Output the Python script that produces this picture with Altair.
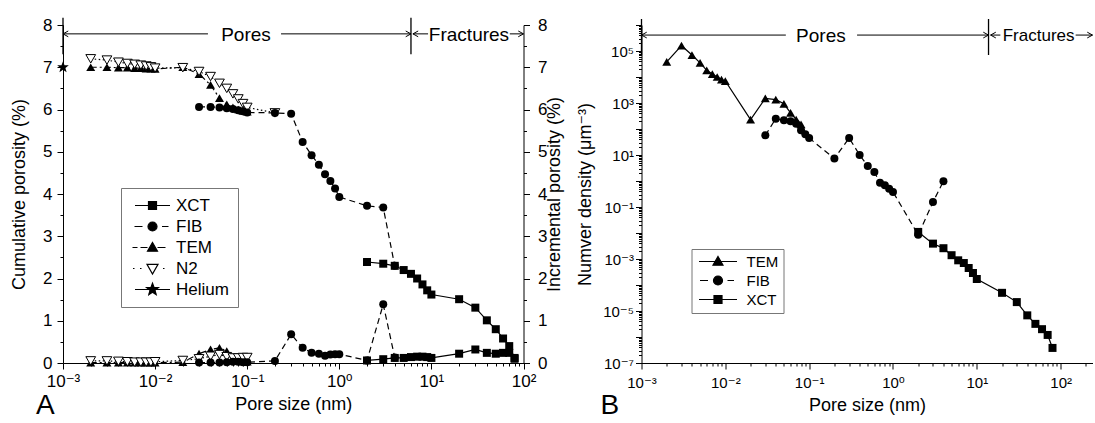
import math
import altair as alt
import pandas as pd

FONT = "Liberation Sans, Arial, DejaVu Sans, sans-serif"

# ---------------- Panel A data (pore size in nm, porosity in %) ----------------
n2_size = [0.002, 0.003, 0.004, 0.005, 0.006, 0.007, 0.008, 0.009, 0.01,
           0.02, 0.03, 0.04, 0.05, 0.06, 0.07, 0.08, 0.09, 0.1, 0.2]
n2_cum = [7.20, 7.17, 7.12, 7.09, 7.07, 7.05, 7.03, 7.01, 6.98,
          6.99, 6.90, 6.78, 6.62, 6.50, 6.37, 6.25, 6.14, 6.05, 5.92]
n2_inc_size = [0.002, 0.003, 0.004, 0.005, 0.006, 0.007, 0.008, 0.009, 0.01,
               0.02, 0.03, 0.04, 0.05, 0.06, 0.07, 0.08, 0.09, 0.1]
n2_inc = [0.05, 0.05, 0.04, 0.03, 0.02, 0.02, 0.02, 0.02, 0.03,
          0.06, 0.10, 0.16, 0.20, 0.15, 0.12, 0.12, 0.13, 0.13]

tem_size = [0.002, 0.003, 0.004, 0.005, 0.006, 0.007, 0.008, 0.009, 0.01,
            0.02, 0.03, 0.04, 0.05, 0.06, 0.07, 0.08, 0.09, 0.1]
tem_cum = [7.00, 7.00, 6.99, 6.99, 6.98, 6.98, 6.97, 6.97, 6.96,
           7.00, 6.84, 6.58, 6.27, 6.12, 6.05, 6.00, 5.97, 5.95]
tem_inc = [0.01, 0.01, 0.01, 0.01, 0.01, 0.01, 0.01, 0.01, 0.01,
           0.02, 0.22, 0.32, 0.36, 0.28, 0.12, 0.06, 0.04, 0.03]

fib_size = [0.03, 0.04, 0.05, 0.06, 0.07, 0.08, 0.09, 0.1, 0.2, 0.3,
            0.4, 0.5, 0.6, 0.7, 0.8, 0.9, 1.0, 2, 3, 4]
fib_cum = [6.06, 6.06, 6.05, 6.03, 6.01, 5.98, 5.96, 5.93, 5.92, 5.90,
           5.23, 4.92, 4.69, 4.47, 4.31, 4.13, 3.93, 3.72, 3.68, 2.30]
fib_inc = [0.01, 0.01, 0.01, 0.02, 0.03, 0.03, 0.02, 0.02, 0.05, 0.68,
           0.36, 0.24, 0.22, 0.17, 0.20, 0.21, 0.21, 0.06, 1.39, 0.13]

xct_size = [2, 3, 4, 5, 6, 7, 8, 9, 10, 20, 30, 40, 50, 60, 70, 80]
xct_cum = [2.39, 2.35, 2.30, 2.20, 2.11, 2.00, 1.86, 1.72, 1.62, 1.51,
           1.31, 1.01, 0.80, 0.58, 0.40, 0.12]
xct_inc = [0.06, 0.09, 0.12, 0.12, 0.14, 0.15, 0.15, 0.14, 0.12, 0.22,
           0.32, 0.24, 0.22, 0.24, 0.24, 0.10]

helium_size = [0.001]
helium_cum = [7.0]

legend_A = ["XCT", "FIB", "TEM", "N2", "Helium"]

# ---------------- Panel B data (number density, um^-3) ----------------
tem_b_size = [0.002, 0.003, 0.004, 0.005, 0.006, 0.007, 0.008, 0.009, 0.01,
              0.02, 0.03, 0.04, 0.05, 0.06, 0.07, 0.08]
tem_b_dens = [3.8e4, 1.6e5, 7.0e4, 3.5e4, 1.8e4, 1.3e4, 1.0e4, 8.0e3, 7.0e3,
              2.3e2, 1.5e3, 1.35e3, 9.3e2, 4.2e2, 2.3e2, 1.5e2]

fib_b_size = [0.03, 0.04, 0.05, 0.06, 0.07, 0.08, 0.09, 0.1, 0.2, 0.3,
              0.4, 0.5, 0.6, 0.7, 0.8, 0.9, 1.0, 2, 3, 4]
fib_b_dens = [57, 250, 215, 200, 160, 89, 63, 45, 7.3, 45,
              10, 3.8, 2.2, 0.85, 0.68, 0.5, 0.38, 0.0085, 0.155, 0.98]

xct_b_size = [2, 3, 4, 5, 6, 7, 8, 9, 10, 20, 30, 40, 50, 60, 70, 80]
xct_b_dens = [1.1e-2, 3.9e-3, 2.6e-3, 1.4e-3, 8.9e-4, 7.0e-4, 4.5e-4, 2.9e-4,
              1.7e-4, 5.0e-5, 2.2e-5, 6.8e-6, 3.2e-6, 2.0e-6, 1.2e-6, 3.8e-7]

legend_B = ["TEM", "FIB", "XCT"]

# ---------------- annotation values ----------------
A_band_y = 7.79
A_bar_y = [8.17, 7.31]
A_bars_x = [0.001, 6.0]
A_seg_start = [0.001, 0.233, 6.3, 71]
A_seg_end = [0.0375, 6.0, 9.2, 100]
A_tip_right = [6.0, 100]
A_tip_left = [0.001, 6.3]
A_words = ["Pores", "Fractures"]
A_words_x = [0.097, 25.6]

B_band_y = 4.1e5
B_bar_y = [1.7e6, 7.0e4]
B_bars_x = [0.001, 13.8]
B_seg_start = [0.001, 0.373, 14.6, 151]
B_seg_end = [0.0527, 13.8, 19.1, 240]
B_tip_right = [13.8, 240]
B_tip_left = [0.001, 14.6]
B_words = ["Pores", "Fractures"]
B_words_x = [0.138, 54.6]

# ---------------- helpers ----------------
E = "round(log(datum.value)/LN10)"
IS_POW = f"abs(log(datum.value)/LN10 - {E}) < 0.001"
SUP = (f"'10' + ({E} < 0 ? '\u207b' : '') + "
       f"['\u2070','\u00b9','\u00b2','\u00b3','\u2074','\u2075','\u2076','\u2077','\u2078','\u2079'][abs({E})]")
LOG_LABEL = f"{IS_POW} ? {SUP} : ''"
ODD_LABEL = f"({IS_POW}) && abs({E}) % 2 == 1 ? {SUP} : ''"
INT_LABEL = "datum.value % 1 == 0 ? format(datum.value, 'd') : ''"


def log_ticks(lo, hi, limit):
    out = []
    for e in range(lo, hi + 1):
        for k in range(1, 10):
            v = float(f"{k}e{e}")
            if v <= limit * 1.0001:
                out.append(v)
    return out


def star_path(s):
    pts = []
    for k in range(10):
        ang = math.radians(-90 + 36 * k)
        rr = s if k % 2 == 0 else s * 0.42
        pts.append(f"{rr * math.cos(ang):.3f},{rr * math.sin(ang):.3f}")
    return "M" + "L".join(pts) + "Z"


def sq(s):
    return f"M{-s},{-s}H{s}V{s}H{-s}Z"


def circ(s):
    return f"M{-s},0A{s},{s},0,1,0,{s},0A{s},{s},0,1,0,{-s},0Z"


def tri_up(s):
    return f"M0,{-s}L{s},{0.75 * s}H{-s}Z"


def tri_down_outline(s):
    return f"M0,{s}L{s},{-0.75 * s}H{-s}Z M0,{s}L{-s},{-0.75 * s}H{s}Z"


RIGHT_TIP = "M-1,-0.55L0,0L-1,0.55"
LEFT_TIP = "M1,-0.55L0,0L1,0.55"
STAR = star_path(1.0)

lin_cond = {"condition": {"test": "datum.value % 1 == 0", "value": 6}, "value": 3}
log_cond = {"condition": {"test": IS_POW, "value": 6}, "value": 3}

# ---------------- Panel A ----------------
WA, HA = 460.5, 338
xA_scale = alt.Scale(type="log", domain=[0.001, 100], nice=False)
yA_scale = alt.Scale(domain=[0, 8], nice=False, zero=False)
xA_axis = alt.Axis(values=log_ticks(-3, 2, 100), labelExpr=LOG_LABEL, tickSize=log_cond,
                   title="Pore size (nm)", labelOverlap=False, labelFlush=False, grid=False,
                   labelFontSize=17, labelPadding=4, titlePadding=6)
yA_axis = alt.Axis(values=[i * 0.5 for i in range(17)], labelExpr=INT_LABEL,
                   tickSize=lin_cond, title="Cumulative porosity (%)", labelOverlap=False, grid=False,
                   labelFlush=False, labelFontSize=17, labelPadding=5, titlePadding=14)
yA2_axis = alt.Axis(values=[i * 0.5 for i in range(17)], labelExpr=INT_LABEL,
                    tickSize=lin_cond, title="Incremental porosity (%)", labelOverlap=False, grid=False,
                    labelFlush=False, orient="right", titleAngle=270, titleBaseline="top",
                    labelFontSize=17, labelPadding=8, titlePadding=-1)


def xA(f="size"):
    return alt.X(f"{f}:Q", scale=xA_scale, axis=xA_axis)


def yA(f):
    return alt.Y(f"{f}:Q", scale=yA_scale, axis=yA_axis)


def yA2(f):
    return alt.Y(f"{f}:Q", scale=yA_scale, axis=yA2_axis)


xenc_holder = [xA]


def series(size, vals, yfun, dash, shape, msize, open_marker=False):
    df = pd.DataFrame({"size": size, "v": vals})
    base = alt.Chart(df)
    line_kw = dict(color="black", strokeWidth=1.2)
    if dash:
        line_kw["strokeDash"] = dash
    line = base.mark_line(**line_kw).encode(x=xenc_holder[0]("size"), y=yfun("v"))
    if open_marker:
        pts = base.mark_point(shape=shape, size=msize, filled=True, fill="white",
                              stroke="black", strokeWidth=1, opacity=1)
    else:
        pts = base.mark_point(shape=shape, size=msize, filled=True, color="black", opacity=1)
    pts = pts.encode(x=xenc_holder[0]("size"), y=yfun("v"))
    return [line, pts]


cum_layers = []
cum_layers += series(tem_size, tem_cum, yA, [6, 3, 2, 3], "triangle-up", 80)
cum_layers += series(n2_size, n2_cum, yA, [1.5, 2.5], "triangle-down", 95, open_marker=True)
cum_layers += series(fib_size, fib_cum, yA, [6, 4], "circle", 64)
cum_layers += series(xct_size, xct_cum, yA, None, "square", 64)
cum_layers.append(
    alt.Chart(pd.DataFrame({"size": helium_size, "v": helium_cum}))
    .mark_point(shape=STAR, size=150, filled=True, color="black", opacity=1)
    .encode(x=xA("size"), y=yA("v"))
)

inc_layers = []
inc_layers += series(tem_size, tem_inc, yA2, [6, 3, 2, 3], "triangle-up", 80)
inc_layers += series(n2_inc_size, n2_inc, yA2, [1.5, 2.5], "triangle-down", 95, open_marker=True)
inc_layers += series(fib_size, fib_inc, yA2, [6, 4], "circle", 64)
inc_layers += series(xct_size, xct_inc, yA2, None, "square", 64)


def annotations(xenc, yenc, band_y, bar_y, bars_x, seg_s, seg_e, tips_r, tips_l, words, words_x, sizes):
    layers = []
    seg = pd.DataFrame({"xs": seg_s, "xe": seg_e, "y": [band_y] * len(seg_s)})
    layers.append(alt.Chart(seg).mark_rule(color="black", strokeWidth=1)
                  .encode(x=xenc("xs"), x2="xe:Q", y=yenc("y")))
    bars = pd.DataFrame({"x": bars_x, "y1": [bar_y[0]] * len(bars_x), "y2": [bar_y[1]] * len(bars_x)})
    layers.append(alt.Chart(bars).mark_rule(color="black", strokeWidth=1.3)
                  .encode(x=xenc("x"), y=yenc("y1"), y2="y2:Q"))
    tr = pd.DataFrame({"x": tips_r, "y": [band_y] * len(tips_r)})
    layers.append(alt.Chart(tr).mark_point(shape=RIGHT_TIP, size=110, filled=False, color="black",
                                           strokeWidth=1, opacity=1)
                  .encode(x=xenc("x"), y=yenc("y")))
    tl = pd.DataFrame({"x": tips_l, "y": [band_y] * len(tips_l)})
    layers.append(alt.Chart(tl).mark_point(shape=LEFT_TIP, size=110, filled=False, color="black",
                                           strokeWidth=1, opacity=1)
                  .encode(x=xenc("x"), y=yenc("y")))
    for w, wx, fs in zip(words, words_x, sizes):
        t = pd.DataFrame({"x": [wx], "y": [band_y], "t": [w]})
        layers.append(alt.Chart(t).mark_text(fontSize=fs, font=FONT, color="black",
                                             baseline="middle", align="center", dy=1)
                      .encode(x=xenc("x"), y=yenc("y"), text="t:N"))
    return layers


cum_layers += annotations(xA, yA, A_band_y, A_bar_y, A_bars_x, A_seg_start, A_seg_end,
                          A_tip_right, A_tip_left, A_words, A_words_x, [19, 19])


def legend_layer(names, paths, lx, ly, label_size, row_pad, pad, label_off):
    leg = alt.Legend(title=None, orient="none", legendX=lx, legendY=ly,
                     symbolOffset=14, labelOffset=label_off, rowPadding=row_pad,
                     padding=pad, strokeColor="#777777", labelFontSize=label_size,
                     labelFont=FONT, symbolSize=100, symbolStrokeWidth=1.2,
                     labelColor="black")
    black = ["black"] * len(names)
    return (
        alt.Chart(pd.DataFrame({"series": names}))
        .transform_filter("false")
        .mark_point(filled=True, size=100, strokeWidth=1.2, opacity=1)
        .encode(
            shape=alt.Shape("series:N", scale=alt.Scale(domain=names, range=paths), legend=leg),
            fill=alt.Fill("series:N", scale=alt.Scale(domain=names, range=black), legend=leg),
            stroke=alt.Stroke("series:N", scale=alt.Scale(domain=names, range=black), legend=leg),
        )
    )


legend_paths_A = [
    "M-3.5,0H3.5" + sq(0.8),
    "M-3.6,0H-2.0M1.9,0H3.2" + circ(0.9),
    "M-4,0H-3M-2.4,0H-1M1,0H2.6" + tri_up(1.0),
    "M-3.9,0H-3.6M-2.5,0H-2.2M2.1,0H2.4" + tri_down_outline(1.1),
    "M-3.5,0H3.5" + star_path(1.25),
]
cum_layers.append(legend_layer(legend_A, legend_paths_A, 58, 163, 17, 3, 9, 15))

panelA_label = (alt.Chart(pd.DataFrame({"t": ["A"]}))
                .mark_text(fontSize=28, font=FONT, align="left", baseline="alphabetic", color="black")
                .encode(text="t:N", x=alt.value(-27), y=alt.value(389)))
cum_layers.append(panelA_label)

cum_group = alt.layer(*cum_layers)
inc_group = alt.layer(*inc_layers)
panelA = alt.layer(cum_group, inc_group).resolve_scale(y="independent").properties(width=WA, height=HA)

# ---------------- Panel B ----------------
WB, HB = 451, 338
xB_scale = alt.Scale(type="log", domain=[0.001, 240], nice=False)
yB_scale = alt.Scale(type="log", domain=[1e-7, 1e6], nice=False)
xB_axis = alt.Axis(values=log_ticks(-3, 2, 240), labelExpr=LOG_LABEL, tickSize=log_cond,
                   title="Pore size (nm)", labelOverlap=False, labelFlush=False, grid=False,
                   labelFontSize=15, labelPadding=6, titlePadding=6)
yB_axis = alt.Axis(values=log_ticks(-7, 6, 1e6), labelExpr=ODD_LABEL, tickSize=log_cond,
                   title="Numver density (\u03bcm\u207b\u00b3)", labelOverlap=False, labelFlush=False,
                   grid=False, labelFontSize=15, titlePadding=8)


def xB(f="size"):
    return alt.X(f"{f}:Q", scale=xB_scale, axis=xB_axis)


def yB(f):
    return alt.Y(f"{f}:Q", scale=yB_scale, axis=yB_axis)


xenc_holder[0] = xB
b_layers = []
b_layers += series(tem_b_size, tem_b_dens, yB, None, "triangle-up", 80)
b_layers += series(fib_b_size, fib_b_dens, yB, [6, 4], "circle", 64)
b_layers += series(xct_b_size, xct_b_dens, yB, None, "square", 64)
b_layers += annotations(xB, yB, B_band_y, B_bar_y, B_bars_x, B_seg_start, B_seg_end,
                        B_tip_right, B_tip_left, B_words, B_words_x, [19, 17])

legend_paths_B = [
    "M-3.8,0H3.8" + tri_up(1.0),
    "M-3.6,0H-2.0M1.9,0H3.2" + circ(0.9),
    "M-3.8,0H3.8" + sq(0.8),
]
b_layers.append(legend_layer(legend_B, legend_paths_B, 50, 224, 15, 3, 5, 21))
panelB_label = (alt.Chart(pd.DataFrame({"t": ["B"]}))
                .mark_text(fontSize=28, font=FONT, align="left", baseline="alphabetic", color="black")
                .encode(text="t:N", x=alt.value(-41), y=alt.value(389)))
b_layers.append(panelB_label)

panelB = alt.layer(*b_layers).properties(width=WB, height=HB)

chart = (
    alt.hconcat(panelA, panelB, spacing=117.5, bounds="flush")
    .resolve_scale(shape="independent", fill="independent", stroke="independent",
                   x="independent", y="independent")
    .properties(padding={"left": 10, "top": 16, "right": 0, "bottom": 0}, background="white")
    .configure_view(stroke=None)
    .configure_axis(labelFont=FONT, titleFont=FONT, titleFontSize=18, titleFontWeight="normal",
                    labelColor="black", titleColor="black", domainColor="black", tickColor="black",
                    grid=False, domainWidth=1, tickWidth=1)
)

chart.save("out.html", embed_options={"renderer": "svg", "actions": False})
